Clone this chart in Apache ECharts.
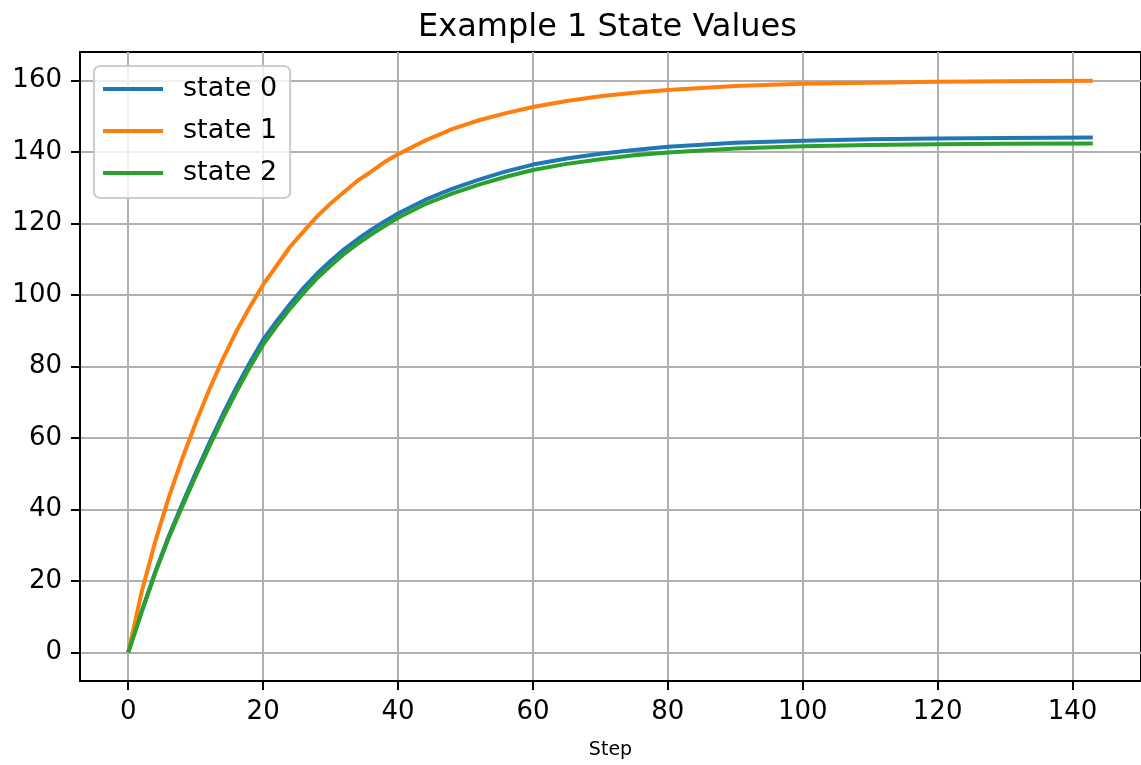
<!DOCTYPE html>
<html>
<head>
<meta charset="utf-8">
<script src="https://cdn.jsdelivr.net/npm/echarts@6/dist/echarts.min.js"></script>
<style>
  html, body { margin: 0; padding: 0; background: #ffffff; }
  #chart { width: 1141px; height: 765px; }
</style>
</head>
<body>
<div id="chart"></div>
<script>
// ---- data ----
const steps = [0, 2, 4, 6, 8, 10, 12, 14, 16, 18, 20, 22, 24, 26, 28, 30, 32, 34, 36, 38, 40, 44, 48, 52, 56, 60, 65, 70, 75, 80, 90, 100, 110, 120, 130, 143];
const state0 = [0, 11.5, 22.5, 32.5, 41.5, 50.2, 58.5, 66.5, 74, 81, 87.5, 92.7, 97.5, 102, 106, 109.5, 112.8, 115.6, 118.2, 120.6, 122.8, 126.6, 129.7, 132.3, 134.6, 136.5, 138.2, 139.5, 140.6, 141.5, 142.6, 143.2, 143.6, 143.8, 143.95, 144.1];
const state1 = [0, 17, 31, 43.3, 54.2, 64.2, 73.5, 82, 89.7, 96.6, 102.9, 108.2, 113.5, 117.8, 122, 125.6, 128.8, 132, 134.5, 137.2, 139.4, 143.2, 146.4, 148.9, 150.9, 152.6, 154.3, 155.6, 156.6, 157.4, 158.5, 159.1, 159.4, 159.7, 159.85, 159.95];
const state2 = [0, 11.4, 22.2, 32, 40.8, 49.3, 57.5, 65.4, 72.8, 79.7, 86.1, 91.3, 96.2, 100.6, 104.7, 108.2, 111.5, 114.3, 116.9, 119.3, 121.6, 125.4, 128.4, 130.9, 133.1, 135, 136.7, 138, 139.1, 139.9, 141, 141.6, 142, 142.2, 142.35, 142.4];
const seriesNames = ['state 0', 'state 1', 'state 2'];
const xTicks = [0, 20, 40, 60, 80, 100, 120, 140];
const yTicks = [0, 20, 40, 60, 80, 100, 120, 140, 160];
const titleText = 'Example 1 State Values';
const xLabel = 'Step';

const colors = ['#1f77b4', '#ff7f0e', '#2ca02c'];
const pairs = (ys) => steps.map((s, i) => [s, ys[i]]);
const allSeries = [state0, state1, state2];

const chart = echarts.init(document.getElementById('chart'), null, { renderer: 'canvas' });
const font = 'DejaVu Sans';

chart.setOption({
  animation: false,
  backgroundColor: '#ffffff',
  title: {
    text: titleText,
    left: 413,
    top: 7,
    textStyle: { fontFamily: font, fontSize: 32, fontWeight: 'normal', color: '#000' }
  },
  legend: {
    orient: 'vertical',
    left: 94,
    top: 66,
    padding: [8, 13, 10, 9],
    itemWidth: 60,
    itemHeight: 4,
    itemGap: 12,
    icon: 'rect',
    backgroundColor: 'rgba(255,255,255,0.8)',
    borderColor: '#cccccc',
    borderWidth: 2,
    borderRadius: 6,
    data: seriesNames,
    textStyle: { fontFamily: font, fontSize: 27, lineHeight: 30, color: '#000', padding: [0, 0, 0, 15] }
  },
  grid: {
    left: 80,
    right: -9,
    top: 52,
    bottom: 81,
    show: true,
    borderColor: '#000',
    borderWidth: 2,
    backgroundColor: 'transparent'
  },
  xAxis: {
    type: 'value',
    min: -7.15,
    max: 150.15,
    name: xLabel,
    nameLocation: 'middle',
    nameGap: 60,
    nameTextStyle: { fontFamily: font, fontSize: 19, color: '#000' },
    axisLine: { show: true, onZero: false, lineStyle: { color: '#000', width: 2 } },
    axisTick: { show: true, length: 9, lineStyle: { color: '#000', width: 2 }, customValues: xTicks },
    axisLabel: { fontFamily: font, fontSize: 26, color: '#000', margin: 18, customValues: xTicks },
    splitLine: { show: true, lineStyle: { color: '#b0b0b0', width: 2 } }
  },
  yAxis: {
    type: 'value',
    min: -8,
    max: 168,
    axisLine: { show: true, onZero: false, lineStyle: { color: '#000', width: 2 } },
    axisTick: { show: true, length: 9, lineStyle: { color: '#000', width: 2 }, customValues: yTicks },
    axisLabel: { fontFamily: font, fontSize: 26, color: '#000', margin: 18, customValues: yTicks },
    splitLine: { show: true, lineStyle: { color: '#b0b0b0', width: 2 } }
  },
  series: allSeries.map((ys, k) => ({
    name: seriesNames[k],
    type: 'line',
    data: pairs(ys),
    showSymbol: false,
    symbol: 'none',
    smooth: false,
    color: colors[k],
    lineStyle: { color: colors[k], width: 4 },
    z: 2 + k
  }))
});
</script>
</body>
</html>
